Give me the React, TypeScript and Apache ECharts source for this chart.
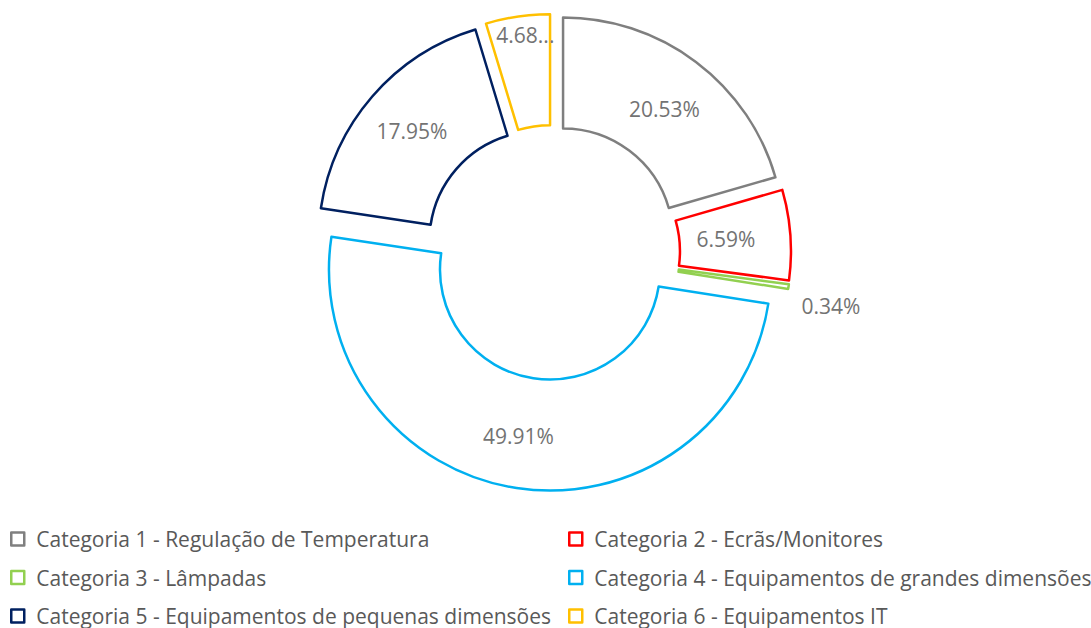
import React, { useEffect, useRef } from "react";
import * as echarts from "echarts";

const categories = [
  "Categoria 1 - Regulação de Temperatura",
  "Categoria 2 - Ecrãs/Monitores",
  "Categoria 3 - Lâmpadas",
  "Categoria 4 - Equipamentos de grandes dimensões",
  "Categoria 5 - Equipamentos de pequenas dimensões",
  "Categoria 6 - Equipamentos IT",
];
const values = [20.53, 6.59, 0.34, 49.91, 17.95, 4.68];
const colors = ["#7f7f7f", "#ff0000", "#92d050", "#00b0f0", "#002060", "#ffc000"];
// slices whose label is clipped (shown with an ellipsis), as in the source chart
const clippedLabels = [5];

const FONT = "Open Sans";
const LABEL_SIZE = 21;
const LABEL_COLOR = "#737373";
const LABEL_SHIFT: Record<number, { dx?: number; dy?: number }> = {
  0: { dy: 5 },
  1: { dx: -12 },
  2: { dy: 18 },
  3: { dx: -6 },
  5: { dy: -34 },
};

const fmt = (v: number) => v.toFixed(2) + "%";
const clip = (s: string) => s.slice(0, s.length - 1) + "...";

export default function App() {
  const ref = useRef<HTMLDivElement>(null);
  useEffect(() => {
    if (!ref.current) return;
    const chart = echarts.init(ref.current, undefined, { renderer: "svg" });
    const data = values.map((v, i) => {
      const item: any = {
        name: categories[i],
        value: v,
        selected: true,
        itemStyle: { color: "#ffffff", borderColor: colors[i], borderWidth: 2.5 },
      };
      if (i === 2) {
        item.label = { position: "outside", distance: 5 };
        item.labelLine = { show: false, length: 8, length2: 0 };
      }
      return item;
    });
    const legendBase = {
      orient: "vertical",
      top: 528,
      padding: 0,
      icon: "rect",
      itemWidth: 13,
      itemHeight: 13,
      itemGap: 16.5,
      itemStyle: { color: "#ffffff", borderWidth: 2.5 },
      textStyle: { fontFamily: FONT, fontSize: 21, color: "#595959", lineHeight: 22, padding: [0, 0, 0, 7] },
      selectedMode: false,
    };
    chart.setOption({
      animation: false,
      legend: [
        { ...legendBase, left: 10, data: [categories[0], categories[2], categories[4]] },
        { ...legendBase, left: 568, data: [categories[1], categories[3], categories[5]] },
      ],
      series: [
        {
          type: "pie",
          center: [552.6, 252.4],
          radius: [110, 221],
          startAngle: 90,
          clockwise: true,
          selectedMode: "multiple",
          selectedOffset: 17.4,
          avoidLabelOverlap: false,
          emphasis: { disabled: true },
          select: { itemStyle: { color: "#ffffff" } },
          label: {
            show: true,
            position: "inside",
            fontFamily: FONT,
            fontSize: LABEL_SIZE,
            color: LABEL_COLOR,
            formatter: (p: any) =>
              clippedLabels.includes(p.dataIndex) ? clip(fmt(p.value)) : fmt(p.value),
          },
          labelLine: { show: false },
          labelLayout: (p: any) => LABEL_SHIFT[p.dataIndex] || {},
          data,
        },
      ],
    });
    return () => chart.dispose();
  }, []);
  return (
    <div
      ref={ref}
      style={{ position: "absolute", left: 0, top: 0, width: 1091, height: 628, background: "#fff" }}
    />
  );
}
